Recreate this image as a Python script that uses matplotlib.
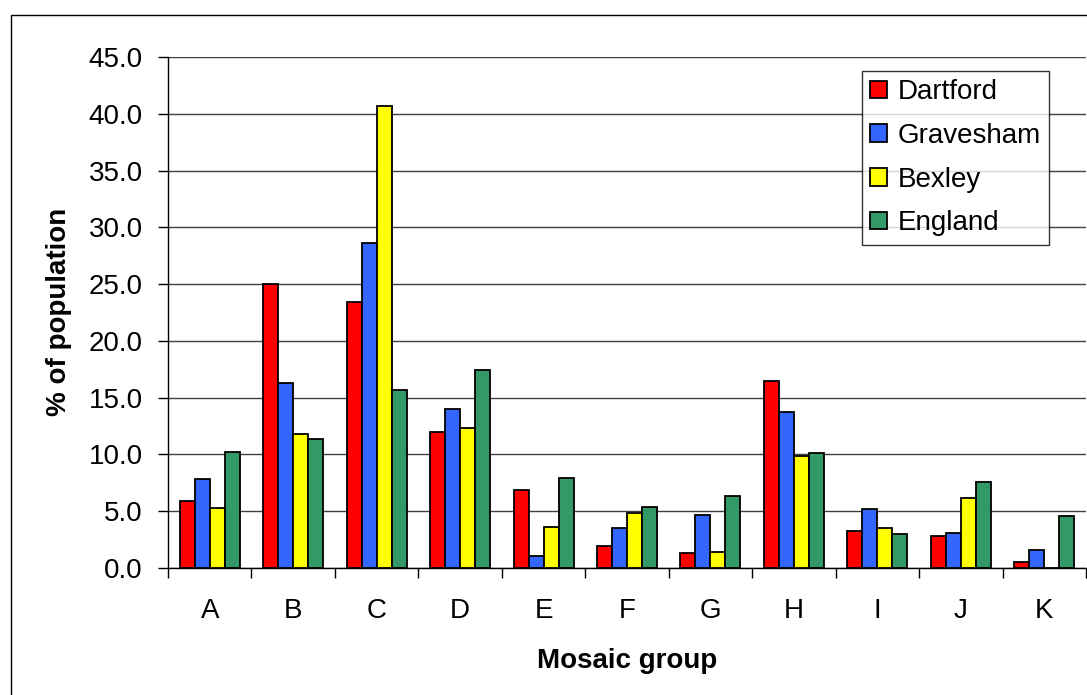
import matplotlib.pyplot as plt
import numpy as np
from matplotlib.patches import Rectangle

plt.rcParams['font.family'] = ['Liberation Sans', 'DejaVu Sans']

groups = ['A', 'B', 'C', 'D', 'E', 'F', 'G', 'H', 'I', 'J', 'K']
dartford = [5.9, 25.0, 23.4, 12.0, 6.9, 1.9, 1.3, 16.5, 3.3, 2.8, 0.5]
gravesham = [7.8, 16.3, 28.6, 14.0, 1.1, 3.5, 4.7, 13.7, 5.2, 3.1, 1.6]
bexley = [5.3, 11.8, 40.7, 12.3, 3.6, 4.8, 1.4, 9.9, 3.5, 6.2, 0.0]
england = [10.2, 11.4, 15.7, 17.4, 7.9, 5.4, 6.3, 10.1, 3.0, 7.6, 4.6]

series = [('Dartford', dartford, '#FF0000'),
          ('Gravesham', gravesham, '#3366FF'),
          ('Bexley', bexley, '#FFFF00'),
          ('England', england, '#339966')]

W, H = 1087, 695
fs = 20
fig = plt.figure(figsize=(W / 100, H / 100), dpi=100)
ax = fig.add_axes([168 / W, 1 - 568 / H, 918 / W, 511 / H])

x = np.arange(len(groups))
w = 0.18
for i, (name, vals, col) in enumerate(series):
    ax.bar(x + (i - 1.5) * w, vals, w, color=col, edgecolor='black',
           linewidth=1.3, label=name, zorder=3)

ax.set_xlim(-0.5, len(groups) - 0.5)
ax.set_ylim(0, 45)
ax.set_yticks(np.arange(0, 46, 5))
ax.set_yticklabels(['%.1f' % v for v in np.arange(0, 46, 5)])
ax.yaxis.grid(True, color='#404040', linewidth=1, zorder=0)
ax.set_axisbelow(True)

ax.set_xticks(x)
ax.set_xticklabels(groups)
ax.set_xticks(np.arange(-0.5, len(groups), 1), minor=True)
ax.tick_params(axis='x', which='major', length=0, pad=21.5, labelsize=fs)
ax.tick_params(axis='x', which='minor', length=7.2, width=1, direction='out')
ax.tick_params(axis='y', length=7.2, width=1, pad=11, labelsize=fs)

for s in ['top', 'right']:
    ax.spines[s].set_visible(False)
ax.spines['left'].set_linewidth(1)
ax.spines['bottom'].set_linewidth(1)

fig.text(59 / W, 1 - 312 / H, '% of population', fontsize=fs, fontweight='bold',
         rotation=90, ha='center', va='center')
fig.text(627 / W, 1 - 661 / H, 'Mosaic group', fontsize=fs, fontweight='bold',
         ha='center', va='center')

leg = ax.legend(loc='upper right', bbox_to_anchor=(0.96, 0.973), fontsize=fs,
                frameon=True, fancybox=False, edgecolor='black',
                handlelength=0.6, handleheight=0.6, handletextpad=0.4,
                labelspacing=0.64, borderpad=0.3, borderaxespad=0)
leg.get_frame().set_linewidth(1)
leg.set_zorder(5)

fig.patches.append(Rectangle((11 / W, -0.1), 1.2, 1 - 15 / H + 0.1,
                             transform=fig.transFigure, fill=False,
                             edgecolor='black', linewidth=1))

fig.savefig('out.png', dpi=100)
